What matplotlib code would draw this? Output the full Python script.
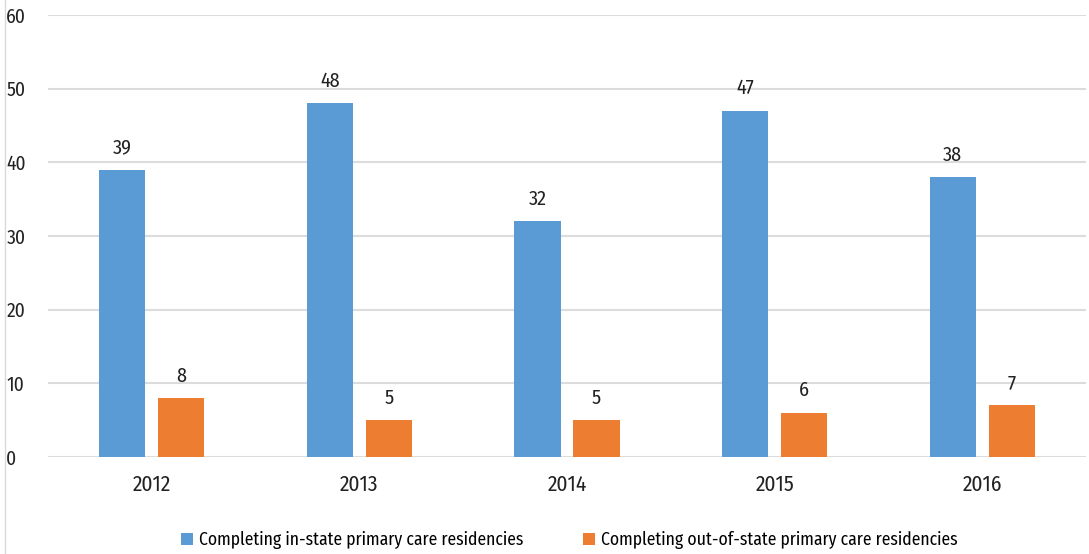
import numpy as np
import matplotlib.pyplot as plt
from matplotlib.lines import Line2D

years = ["2012", "2013", "2014", "2015", "2016"]
in_state = [39, 48, 32, 47, 38]
out_state = [8, 5, 5, 6, 7]
labels = ["Completing in-state primary care residencies",
          "Completing out-of-state primary care residencies"]

BLUE = "#5B9BD5"
ORANGE = "#ED7D31"

plt.rcParams["font.family"] = ["Fira Sans Condensed", "Roboto Condensed", "DejaVu Sans"]

fig = plt.figure(figsize=(10.89, 5.54), dpi=100)
ax = fig.add_axes([48 / 1089, 97 / 554, 1038 / 1089, 442 / 554])

x = np.arange(len(years))
w = 0.222
off = 0.142
b1 = ax.bar(x - off, in_state, w, color=BLUE, label=labels[0], zorder=3)
b2 = ax.bar(x + off, out_state, w, color=ORANGE, label=labels[1], zorder=3)

for bars, vals in ((b1, in_state), (b2, out_state)):
    for rect, v in zip(bars, vals):
        ax.annotate(str(v), (rect.get_x() + rect.get_width() / 2, v),
                    xytext=(0, 9), textcoords="offset points",
                    ha="center", va="bottom", fontsize=14.5, color="#222222")

ax.set_xlim(-0.5, len(years) - 0.5)
ax.set_ylim(0, 60)
ax.set_yticks(range(0, 61, 10))
ax.set_xticks(x)
ax.set_xticklabels(years)
ax.yaxis.grid(True, color="#dcdcdc", linewidth=1.5, zorder=0)
ax.set_axisbelow(True)
for s in ax.spines.values():
    s.set_visible(False)
ax.tick_params(length=0, labelsize=14, colors="#222222")
ax.tick_params(axis="y", pad=30)
ax.tick_params(axis="x", pad=12, labelsize=15.5)
for t in ax.get_yticklabels():
    t.set_horizontalalignment("left")

fig.add_artist(Line2D([5 / 1089, 5 / 1089], [0, 1], color="#d9d9d9", linewidth=1))

ax.legend(loc="lower center", bbox_to_anchor=(0.502, -0.245), ncol=2, frameon=False,
          fontsize=12.7, handlelength=0.7, handleheight=0.7, handletextpad=0.3,
          columnspacing=3.4)

fig.savefig("out.png", dpi=100)
